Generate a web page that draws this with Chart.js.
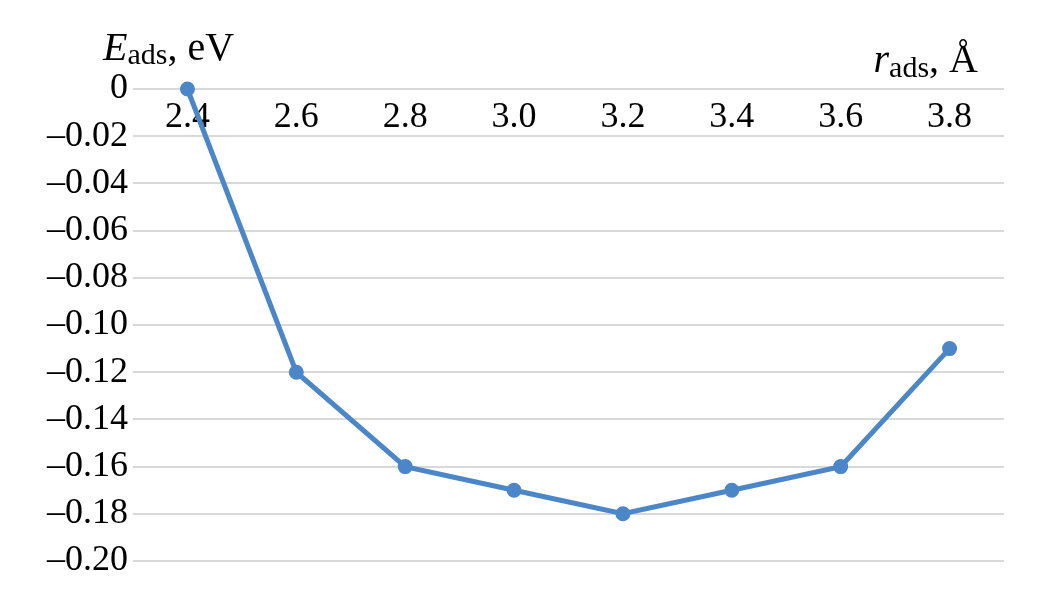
<!DOCTYPE html>
<html>
<head>
<meta charset="utf-8">
<script src="https://cdn.jsdelivr.net/npm/chart.js@4.4.1/dist/chart.umd.min.js"></script>
<style>
  html, body { margin: 0; padding: 0; background: #fff; }
  #wrap { width: 1055px; height: 612px; position: relative; }
</style>
</head>
<body>
<div id="wrap"><canvas id="chart"></canvas></div>
<script>
// r_ads (Å) categories and adsorption energy (eV)
const radius = ['2.4', '2.6', '2.8', '3.0', '3.2', '3.4', '3.6', '3.8'];
const energy = [0, -0.12, -0.16, -0.17, -0.18, -0.17, -0.16, -0.11];
const yTicks = [0, -0.02, -0.04, -0.06, -0.08, -0.10, -0.12, -0.14, -0.16, -0.18, -0.20];

const serif = 'Liberation Serif, Times New Roman, serif';

// draws a title like "E_ads, eV" with an italic letter and a subscript
function drawTitle(ctx, parts, x, y, align) {
    let total = 0;
    parts.forEach(p => {
        ctx.font = p.font;
        p.w = ctx.measureText(p.text).width;
        total += p.w;
    });
    let cx = align === 'right' ? x - total : x;
    parts.forEach(p => {
        ctx.font = p.font;
        ctx.fillText(p.text, cx, y + (p.dy || 0));
        cx += p.w;
    });
}

const axisTitles = {
    id: 'axisTitles',
    afterDraw(chart) {
        const ctx = chart.ctx;
        const a = chart.chartArea;
        ctx.save();
        ctx.fillStyle = '#000';
        ctx.textBaseline = 'alphabetic';
        ctx.textAlign = 'left';
        drawTitle(ctx, [
            { text: 'E', font: 'italic 40px ' + serif },
            { text: 'ads', font: '30px ' + serif, dy: 4 },
            { text: ', eV', font: '40px ' + serif }
        ], a.left - 30, a.top - 29, 'left');
        drawTitle(ctx, [
            { text: 'r', font: 'italic 40px ' + serif },
            { text: 'ads', font: '30px ' + serif, dy: 5 },
            { text: ', Å', font: '40px ' + serif }
        ], a.right - 26, a.top - 17, 'right');
        ctx.restore();
    }
};

new Chart(document.getElementById('chart'), {
    type: 'line',
    data: {
        labels: radius,
        datasets: [{
            data: energy,
            borderColor: '#4a86c8',
            backgroundColor: '#4a86c8',
            borderWidth: 5,
            pointRadius: 5,
            pointHoverRadius: 5,
            tension: 0,
            clip: false
        }]
    },
    options: {
        responsive: true,
        maintainAspectRatio: false,
        animation: false,
        layout: { padding: { top: 89, right: 51, bottom: 51, left: 0 } },
        plugins: {
            legend: { display: false },
            tooltip: { enabled: false }
        },
        scales: {
            x: {
                position: { y: 0 },
                offset: true,
                grid: { display: false, drawTicks: false },
                border: { display: false },
                ticks: {
                    color: '#000',
                    padding: 7,
                    maxRotation: 0,
                    font: { family: serif, size: 36 }
                }
            },
            y: {
                min: -0.2,
                max: 0,
                afterFit(scale) { scale.width = 133; },
                afterBuildTicks(scale) { scale.ticks = yTicks.map(v => ({ value: v })); },
                grid: { color: '#d9d9d9', lineWidth: 2, drawTicks: false },
                border: { display: false },
                ticks: {
                    color: '#000',
                    padding: 5,
                    font: { family: serif, size: 36 },
                    callback: v => Math.abs(v) < 1e-9 ? '0' : '–' + Math.abs(v).toFixed(2)
                }
            }
        }
    },
    plugins: [axisTitles]
});
</script>
</body>
</html>
